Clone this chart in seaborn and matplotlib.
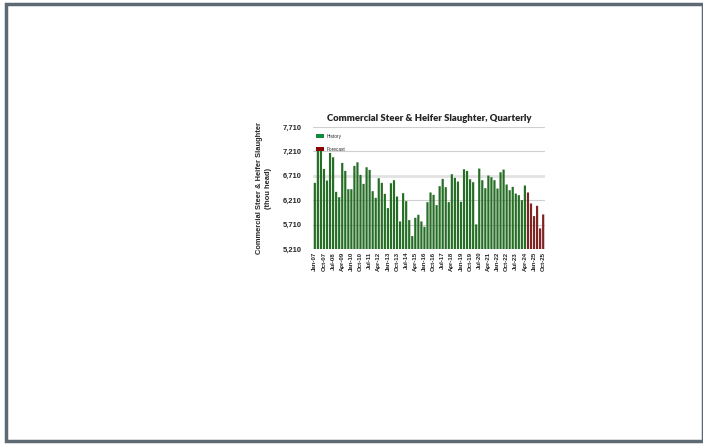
import matplotlib
matplotlib.use("Agg")
import matplotlib.pyplot as plt
import seaborn as sns
import pandas as pd
import numpy as np
from matplotlib.patches import Rectangle
from matplotlib.ticker import FuncFormatter

months = ["Jan", "Apr", "Jul", "Oct"]
years = list(range(2007, 2026))
quarters = [f"{m}-{str(y)[2:]}" for y in years for m in months]

history = [6565, 7280, 7230, 6851, 6613, 7178, 7090, 6381, 6272, 6974,
           6810, 6436, 6436, 6912, 6987, 6729, 6545, 6885, 6831, 6395,
           6259, 6660, 6565, 6340, 6048, 6558, 6620, 6286, 5775, 6354,
           6190, 5802, 5475, 5850, 5911, 5775, 5666, 6170, 6368, 6320,
           6109, 6497, 6647, 6477, 6170, 6742, 6667, 6592, 6177, 6844,
           6810, 6640, 6579, 5714, 6858, 6620, 6456, 6715, 6681, 6620,
           6449, 6783, 6838, 6531, 6415, 6483, 6347, 6313, 6211, 6511]
forecast = [6368, 6143, 5884, 6095, 5632, 5918]

series_names = ["History", "Forecast"]
yticks = [5210, 5710, 6210, 6710, 7210, 7710]

df = pd.DataFrame({
    "quarter": quarters,
    "value": history + forecast,
    "type": [series_names[0]] * len(history) + [series_names[1]] * len(forecast),
})

sns.set_theme(style="white")
fig = plt.figure(figsize=(7.03, 4.45), dpi=100)

# outer frame
fig.patches.append(Rectangle((6 / 703, 4 / 445), 697 / 703, 437 / 445,
                             transform=fig.transFigure, fill=False,
                             edgecolor="#5d6a74", linewidth=2.5, zorder=0))

ax = fig.add_axes([313 / 703, 1 - 249 / 445, 232 / 703, 122 / 445])
sns.barplot(data=df, x="quarter", y="value", hue="type", dodge=False,
            palette={"History": "#1a7a1a", "Forecast": "#8f1414"},
            ax=ax, legend=False, linewidth=0)
bw = 0.72
for bar in ax.patches:
    c = bar.get_x() + bar.get_width() / 2
    bar.set_x(c - bw / 2)
    bar.set_width(bw)
    bar.set_linewidth(0)
    bar.set_snap(False)

ax.set_ylim(yticks[0], yticks[-1])
ax.set_yticks(yticks)
ax.yaxis.set_major_formatter(FuncFormatter(lambda v, p: f"{int(v):,}"))
ax.set_xlim(-0.6, len(quarters) - 0.4)
for y in yticks:
    if y == 6710:
        ax.axhline(y, color="#e2e2e2", linewidth=2.0, zorder=0)
    else:
        ax.axhline(y, color="#cfcfcf", linewidth=0.8, zorder=0)
for s in ax.spines.values():
    s.set_visible(False)

pos = list(range(0, len(quarters), 3))
ax.set_xticks(pos)
ax.set_xticklabels([quarters[i] for i in pos], rotation=90, fontsize=4.4,
                   fontweight="bold", family="Liberation Sans")
for lab in ax.get_yticklabels():
    lab.set_fontsize(5.4)
    lab.set_fontweight("bold")
    lab.set_family("Liberation Sans")
ax.tick_params(axis="y", pad=8, length=0)
ax.tick_params(axis="x", pad=2, length=0)
ax.set_xlabel("")
ax.set_ylabel("Commercial Steer & Heifer Slaughter\n(thou head)", fontsize=5.4,
              fontweight="bold", family="Liberation Sans", labelpad=8,
              linespacing=1.4)
ax.set_title("Commercial Steer & Heifer Slaughter, Quarterly", fontsize=6.8,
             fontweight="heavy", family="Lato", pad=4)

handles = [Rectangle((0, 0), 1, 1, facecolor="#0f8a3c", edgecolor="none"),
           Rectangle((0, 0), 1, 1, facecolor="#8b0000", edgecolor="none")]
ax.legend(handles, series_names, loc="upper left", frameon=False,
          prop={"size": 3.4, "family": "Liberation Sans"},
          handlelength=1.6, handleheight=1.0, labelspacing=1.6,
          borderaxespad=0.3, bbox_to_anchor=(0.0, 0.97), handletextpad=0.6)

fig.savefig("out.png", dpi=100)
